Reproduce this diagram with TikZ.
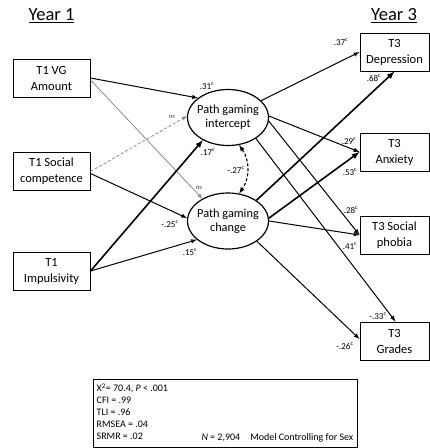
\documentclass[tikz,border=0pt]{standalone}
\usepackage{fontspec}
\setmainfont{Carlito}
\usetikzlibrary{arrows,shapes,backgrounds,calc}

\begin{document}
\begin{tikzpicture}[x=1pt,y=-1pt,
    obs/.style={draw,line width=1pt,minimum width=77pt,minimum height=38pt,
      align=center,inner sep=1pt,font=\fontsize{12.5}{16}\selectfont},
    outc/.style={obs,minimum width=69pt},
    latent/.style={draw,ellipse,line width=1.2pt,minimum width=81pt,
      minimum height=56pt,inner sep=0pt},
    latenttext/.style={align=center,inner sep=0pt,
      font=\fontsize{12.3}{14}\selectfont},
    effect/.style={-latex,line width=1pt},
    strong/.style={effect,line width=1.6pt},
    nseffect/.style={-latex,line width=0.7pt,gray},
    coef/.style={font=\fontsize{9}{10}\selectfont,inner sep=0pt},
    nslbl/.style={coef,font=\fontsize{6.5}{7}\selectfont,text=darkgray},
    yearlbl/.style={font=\fontsize{18.5}{22}\selectfont,inner sep=0pt},
    fitbox/.style={draw,line width=1pt,minimum width=264pt,minimum height=68pt},
    fittext/.style={font=\fontsize{10}{11.8}\selectfont,align=left,inner sep=0pt}]
    \def\sg#1{#1\textsuperscript{c}}
    \useasboundingbox (0,0) rectangle (430,448);
    % Headings
    \node[yearlbl] (y1) at (51.5,16) {\underline{Year 1}};
    \node[yearlbl] (y3) at (394,16) {\underline{Year 3}};
    % Year 1 measures
    \node[obs] (amount) at (51.5,78) {T1 VG\\Amount};
    \node[obs] (social) at (51.5,171.5) {T1 Social\\competence};
    \node[obs] (impuls) at (51.5,271) {T1\\Impulsivity};
    % Growth factors
    \node[latent,label={[latenttext]center:Path gaming\\intercept}] (inter) at (228,117.5) {};
    \node[latent,label={[latenttext]center:Path gaming\\change}] (change) at (228,221) {};
    % Year 3 outcomes
    \node[outc] (depr) at (394.5,52) {T3\\Depression};
    \node[outc] (anx) at (394.5,152) {T3\\Anxiety};
    \node[outc] (phob) at (394.5,235) {T3 Social\\phobia};
    \node[outc] (grades) at (394.5,341) {T3\\Grades};
    % Predictors
    \draw[effect] (amount.east) -- (inter.147);
    \draw[nseffect] ([yshift=-2pt]amount.east) -- (change.139);
    \draw[nseffect,densely dashed] (social.east) -- (inter.178);
    \draw[effect] ([yshift=-2pt]social.east) -- (change.176);
    \draw[strong] (impuls.east) -- (inter.222);
    \draw[effect] (impuls.east) -- (change.211);
    % Covariance
    \draw[latex-latex,densely dashed,line width=1.1pt]
      (inter.292) to[bend left=35] (change.68);
    % Outcomes
    \draw[effect] (inter.27) -- (depr.west);
    \draw[effect] (inter.2) -- (anx.west);
    \draw[effect] (inter.355) -- (phob.west);
    \draw[effect] (inter.323) -- ([xshift=1pt]grades.north);
    \draw[strong] (change.36) -- (depr.south);
    \draw[strong] (change.4) -- (anx.west);
    \draw[effect] (change.0) -- (phob.west);
    \draw[effect] (change.325) -- ([yshift=2pt]grades.west);
    % Coefficients
    \node[coef] (c1) at (207,86) {\sg{.31}};
    \node[nslbl] (n1) at (199,188) {ns};
    \node[nslbl] (n2) at (172,117) {ns};
    \node[coef] (c2) at (170,224) {\sg{-.25}};
    \node[coef] (c3) at (208,152) {\sg{.17}};
    \node[coef] (c4) at (190,252) {\sg{.15}};
    \node[coef] (c5) at (236,170) {\sg{-.27}};
    \node[coef] (c6) at (341,42) {\sg{.37}};
    \node[coef] (c7) at (374,78) {\sg{.68}};
    \node[coef] (c8) at (349,141) {\sg{.29}};
    \node[coef] (c9) at (350,172) {\sg{.53}};
    \node[coef] (c10) at (351,210) {\sg{.28}};
    \node[coef] (c11) at (350,246) {\sg{.41}};
    \node[coef] (c12) at (378,316) {\sg{-.33}};
    \node[coef] (c13) at (345,346) {\sg{-.26}};
    % Model fit
    \node[fitbox] (fit) at (225,413) {};
    \node[fittext,anchor=north west] (indices)
      at ([xshift=4pt,yshift=-5pt]fit.north west)
      {X\textsuperscript{2}= 70.4, \textit{P} < .001\\CFI = .99\\TLI = .96\\RMSEA = .04\\SRMR = .02};
    \node[fittext,anchor=south east] (sample)
      at ([xshift=-4pt,yshift=5pt]fit.south east)
      {\textit{N} = 2,904\quad Model Controlling for Sex};
\end{tikzpicture}
\end{document}
